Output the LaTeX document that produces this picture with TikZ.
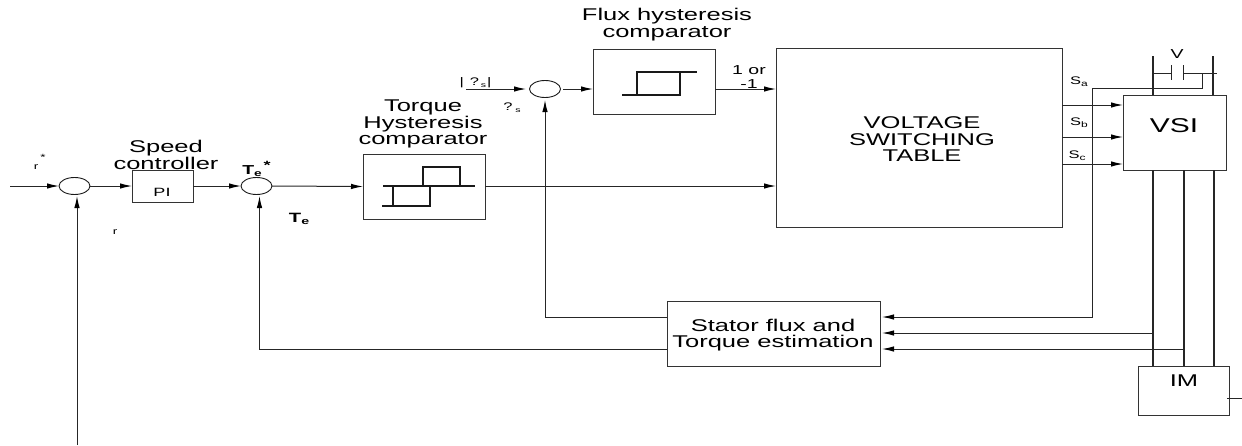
\documentclass[tikz,border=0pt]{standalone}
\usepackage{fontspec}
\setmainfont[FakeStretch=1.5]{Liberation Sans}
\usetikzlibrary{arrows.meta,shapes.geometric}
\tikzset{
  every node/.style={inner sep=0pt,outer sep=0pt},
  blockbox/.style={draw=black!80,line width=1pt,rectangle},
  sumnode/.style={draw=black!90,line width=.9pt,ellipse,minimum width=31pt,minimum height=17pt},
  wire/.style={draw=black!85,line width=1pt},
  sig/.style={wire,-{Latex[length=12pt,width=5.5pt,black]}},
  power/.style={draw=black!85,line width=1.3pt},
  curve/.style={draw=black!90,line width=1.5pt},
  lab/.style={align=center,font=\fontsize{17}{16.5}\selectfont},
  small/.style={font=\fontsize{11}{11}\selectfont},
  tiny/.style={font=\fontsize{9}{9}\selectfont},
}
\begin{document}
\begin{tikzpicture}[x=1pt,y=-1pt]
\useasboundingbox (0,0) rectangle (1242,445);
% blocks
\node[sumnode] (s1) at (74.5,186) {};
\node[sumnode] (s2) at (256.5,186) {};
\node[sumnode] (s3) at (545,89) {};
\node[blockbox,minimum width=61pt,minimum height=32pt] (pi) at (162.5,186) {};
\node[font=\fontsize{12}{12}\selectfont] (pit) at (162,192) {PI};
\node[blockbox,minimum width=122pt,minimum height=65pt] (tq) at (424,186.5) {};
\node[blockbox,minimum width=122pt,minimum height=65pt] (fl) at (654,81.5) {};
\node[blockbox,minimum width=286pt,minimum height=179pt] (tb) at (919,137.5) {};
\node[blockbox,minimum width=103pt,minimum height=75pt] (vsi) at (1174.5,132.5) {};
\node[blockbox,minimum width=213pt,minimum height=65pt] (est) at (773.5,333.5) {};
\node[blockbox,minimum width=91pt,minimum height=49pt] (im) at (1183.5,390.5) {};
% block texts
\node[lab] (ttb) at (922,139.5) {VOLTAGE\\SWITCHING\\TABLE};
\node[font=\fontsize{20}{20}\selectfont] (tvsi) at (1174,125.5) {VSI};
\node[font=\fontsize{17}{17}\selectfont] (tim) at (1184,381) {IM};
\node[lab] (test) at (773,335) {Stator flux and\\Torque estimation};
\node[lab] (lsp) at (166,155) {Speed\\controller};
\node[lab] (ltq) at (423,124) {Torque\\Hysteresis\\comparator};
\node[lab] (lfl) at (667,24.5) {Flux hysteresis\\comparator};
\node[font=\fontsize{13}{14}\selectfont,align=center] (l1) at (749,77.5) {1 or\\-1};
% signal labels
\node[tiny] (r1) at (36,167) {r};
\node[tiny] (r1s) at (43,157) {*};
\node[tiny] (r2) at (115,232) {r};
\node[font=\bfseries\fontsize{13}{13}\selectfont] (te1) at (251,171) {T$_{\mathbf e}$};
\node[font=\bfseries\fontsize{12}{12}\selectfont] (te1s) at (267,165) {*};
\node[font=\bfseries\fontsize{13.5}{13.5}\selectfont] (te2) at (298,219) {T$_{\mathbf e}$};
\node[small] (ps1) at (475.5,83) {|\hspace{6pt}?\hspace{2pt}\raisebox{-2pt}{\fontsize{7}{7}\selectfont s}\hspace{1pt}|};
\node[small] (ps2) at (512,108) {?\hspace{3pt}\raisebox{-2pt}{\fontsize{7}{7}\selectfont s}};
\node[small] (sa) at (1079,82) {S\raisebox{-2pt}{\fontsize{8}{8}\selectfont a}};
\node[small] (sb) at (1079,123) {S\raisebox{-2pt}{\fontsize{8}{8}\selectfont b}};
\node[small] (sc) at (1077,156) {S\raisebox{-2pt}{\fontsize{8}{8}\selectfont c}};
\node[font=\fontsize{13}{13}\selectfont] (vl) at (1177,54) {V};
% free ends and junctions
\coordinate (in1) at (10,186);
\coordinate (sp) at (77,445);
\coordinate (s1b) at (77,196);
\coordinate (s2b) at (259.5,196);
\coordinate (s2c) at (259.5,349);
\coordinate (s3b) at (545,100);
\coordinate (s3c) at (545,317);
\coordinate (fin) at (466,89);
\coordinate (fina) at (526,89);
\coordinate (es1) at (667,317);
\coordinate (es3) at (667,349);
\coordinate (ei1) at (882,317);
\coordinate (ei2) at (882,333);
\coordinate (ei3) at (882,349);
\coordinate (ta) at (1062,105);
\coordinate (tb2) at (1062,137);
\coordinate (tc) at (1062,164);
\coordinate (va) at (1123,105);
\coordinate (vb) at (1123,137);
\coordinate (vc) at (1123,164);
\coordinate (c92) at (1092,317);
\coordinate (c92t) at (1092,88);
\coordinate (c202b) at (1202,88);
\coordinate (c202) at (1202,73);
\coordinate (dcl) at (1153,56);
\coordinate (dclb) at (1153,95);
\coordinate (dcr) at (1213,56);
\coordinate (dcrb) at (1213,95);
\coordinate (wl) at (1153,73);
\coordinate (pl) at (1171,73);
\coordinate (pr) at (1183,73);
\coordinate (wr) at (1217,73);
\coordinate (pl1) at (1171,65);
\coordinate (pl2) at (1171,80);
\coordinate (pr1) at (1183,65);
\coordinate (pr2) at (1183,80);
\coordinate (v1t) at (1153,170);
\coordinate (v2t) at (1184,170);
\coordinate (v3t) at (1214,170);
\coordinate (v1b) at (1153,366);
\coordinate (v2b) at (1184,366);
\coordinate (v3b) at (1214,366);
\coordinate (f2) at (1153,333);
\coordinate (f3) at (1184,349);
\coordinate (t1) at (1227,398);
\coordinate (t2) at (1242,398);
\coordinate (fo) at (715,89);
\coordinate (foi) at (776,89);
\coordinate (so) at (563,89);
\coordinate (foin) at (593,89);
\coordinate (tqo) at (485,186);
\coordinate (tqi) at (776,186);
% signal path
\draw[sig] (in1) -- (s1.west);
\draw[sig] (s1.east) -- (pi.west);
\draw[sig] (pi.east) -- (s2.west);
\draw[sig] (s2.east) -- (tq.west);
\draw[sig] (tqo) -- (tqi);
\draw[sig] (fin) -- (fina);
\draw[sig] (so) -- (foin);
\draw[sig] (fo) -- (foi);
\draw[sig] (sp) -- (s1b);
\draw[sig] (es3) -- (s2c) -- (s2b);
\draw[sig] (es1) -- (s3c) -- (s3b);
% switching outputs
\draw[sig] (ta) -- (va);
\draw[sig] (tb2) -- (vb);
\draw[sig] (tc) -- (vc);
\draw[sig] (c202) -- (c202b) -- (c92t) -- (c92) -- (ei1);
\draw[sig] (f2) -- (ei2);
\draw[sig] (f3) -- (ei3);
% dc link
\draw[power] (dcl) -- (dclb);
\draw[power] (dcr) -- (dcrb);
\draw[wire] (wl) -- (pl);
\draw[wire] (pr) -- (wr);
\draw[wire] (pl1) -- (pl2);
\draw[wire] (pr1) -- (pr2);
% motor feed
\draw[power] (v1t) -- (v1b);
\draw[power] (v2t) -- (v2b);
\draw[power] (v3t) -- (v3b);
\draw[wire] (t1) -- (t2);
% hysteresis curves
\draw[curve] (622,95) -- (680,95) -- (680,72);
\draw[curve] (637,95) -- (637,72) -- (697,72);
\draw[curve] (383,186) -- (475,186);
\draw[curve] (423,186) -- (423,167) -- (460,167) -- (460,186);
\draw[curve] (393,186) -- (393,206);
\draw[curve] (382,206) -- (430,206) -- (430,186);
\end{tikzpicture}
\end{document}
